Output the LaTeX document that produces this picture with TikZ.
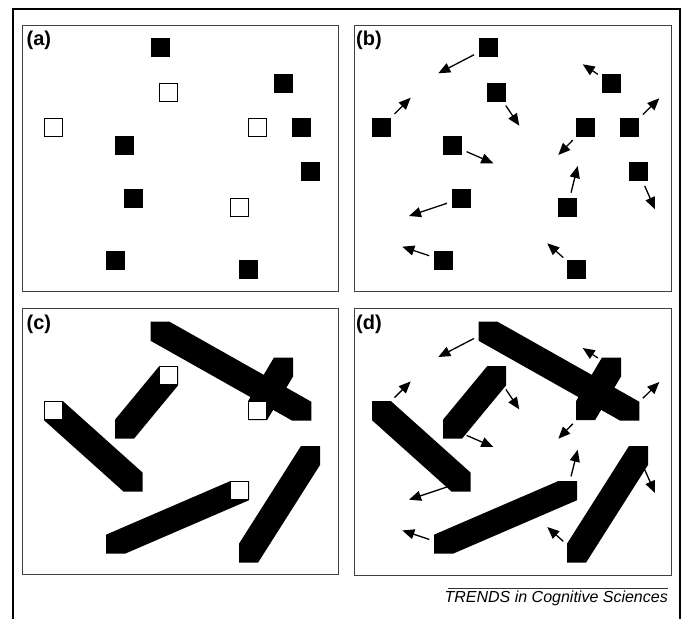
\documentclass[tikz,border=0pt]{standalone}
\usepackage{fontspec}
\setmainfont{Liberation Sans}
\usetikzlibrary{arrows.meta,calc}

\begin{document}
\begin{tikzpicture}[
            x=1pt, y=-1pt,
            panel/.style={
                    draw=black!75,
                    line width=1pt
                },
            sq/.style={
                    rectangle,
                    fill=black,
                    minimum size=19pt,
                    inner sep=0pt,
                    outer sep=0pt
                },
            opensq/.style={
                    sq,
                    fill=white,
                    draw=black,
                    line width=1pt,
                    minimum size=18pt
                },
            ghost/.style={
                    rectangle,
                    minimum size=19pt,
                    inner sep=0pt,
                    outer sep=0pt
                },
            move/.style={-{Triangle[length=12pt,width=10pt]}, line width=1.3pt, shorten <=5pt},
            lbl/.style={anchor=north west, inner sep=0pt, font=\fontsize{20}{20}\selectfont\bfseries}
        ]
        \useasboundingbox (0,0) rectangle (681,619);

        % outer frame and panels
        \draw[line width=2pt] (13,619) -- (13,9) -- (679.5,9) -- (679.5,619);
        \draw[panel] (22.5,25) rectangle (338.5,291);
        \draw[panel] (354,25) rectangle (671,291);
        \draw[panel] (22.5,308.5) rectangle (338,574.5);
        \draw[panel] (354,308.5) rectangle (671,575);

        \node[lbl] (la) at (26.5,31) {(a)};
        \node[lbl] (lb) at (356,31) {(b)};
        \node[lbl] (lc) at (26.5,315) {(c)};
        \node[lbl] (ld) at (356,315) {(d)};

        % (a)
        \foreach \n/\x/\y in {s1/160/47.5, s2/283.5/83.3, s3/301.8/127.5, s4/124.5/145.5,
                s5/310.5/171.8, s6/133.2/198.5, s7/115.5/260.5, s8/248.5/269.5}
            \node[sq] (a\n) at (\x,\y) {};
        \foreach \n/\x/\y in {o1/168.7/92, o2/53.5/127, o3/257.5/127, o4/239.5/207}
            \node[opensq] (a\n) at (\x,\y) {};

        % (b) and (d): squares / bars with motion arrows
        \begin{scope}[shift={(328,0)}]
            \foreach \n/\x/\y in {s1/160/47.5, s2/283.5/83.3, s3/301.8/127.5, s4/124.5/145.5,
                    s5/310.5/171.8, s6/133.2/198.5, s7/115.5/260.5, s8/248.5/269.5,
                    o1/168.7/92, o2/53.5/127, o3/257.5/127, o4/239.5/207}
                \node[sq] (b\n) at (\x,\y) {};
        \end{scope}
        \begin{scope}[shift={(0,283.7)}]
            \foreach \n/\x/\y in {s1/160/47.5, s2/283.5/83.3, s3/301.8/127.5, s4/124.5/145.5,
                    s5/310.5/171.8, s6/133.2/198.5, s7/115.5/260.5, s8/248.5/269.5,
                    o1/168.7/92, o2/53.5/127, o3/257.5/127, o4/239.5/207}
                \node[ghost] (c\n) at (\x,\y) {};
        \end{scope}
        \begin{scope}[shift={(328,283.7)}]
            \foreach \n/\x/\y in {s1/160/47.5, s2/283.5/83.3, s3/301.8/127.5, s4/124.5/145.5,
                    s5/310.5/171.8, s6/133.2/198.5, s7/115.5/260.5, s8/248.5/269.5,
                    o1/168.7/92, o2/53.5/127, o3/257.5/127, o4/239.5/207}
                \node[ghost] (d\n) at (\x,\y) {};
        \end{scope}

        % bars in (c) and (d)
        \foreach \g in {c,d} {
            \foreach \p/\q in {s1/s3, o2/s6}
                \fill (\g\p.north west) -- (\g\p.north east) -- (\g\q.north east)
                    -- (\g\q.south east) -- (\g\q.south west) -- (\g\p.south west) -- cycle;
            \foreach \p/\q in {s2/o3, o1/s4, o4/s7, s5/s8}
                \fill (\g\p.north west) -- (\g\p.north east) -- (\g\p.south east)
                    -- (\g\q.south east) -- (\g\q.south west) -- (\g\q.north west) -- cycle;
        }
        \foreach \n in {o1,o2,o3,o4}
            \node[opensq] (w\n) at (c\n) {};

        % arrow ends
        \foreach \g/\dy in {b/0, d/283.7} {
            \begin{scope}[shift={(328,\dy)}]
                \foreach \n/\x/\y in {s1/110.3/73.3, s2/254.7/64.3, o1/191.3/125.7, o2/82.7/97.7,
                        o3/230.3/155, s3/331.3/98.3, s4/165.3/163.3, s5/327/209.3,
                        s6/81/216, o4/249.7/166, s7/74.3/246.7, s8/219.3/243.3}
                    \coordinate (\g t\n) at (\x,\y);
            \end{scope}
            \foreach \n in {s1,s2,s3,s4,s5,s6,s7,s8,o1,o2,o3,o4}
                \draw[move] (\g\n) -- (\g t\n);
        }

        % footer
        \draw[line width=0.8pt, black!80] (448,588.3) -- (668,588.3);
        \node[anchor=base east, inner sep=0pt, font=\fontsize{16}{16}\selectfont\itshape] (src) at (668,602.7) {TRENDS in Cognitive Sciences};
    \end{tikzpicture}
\end{document}
